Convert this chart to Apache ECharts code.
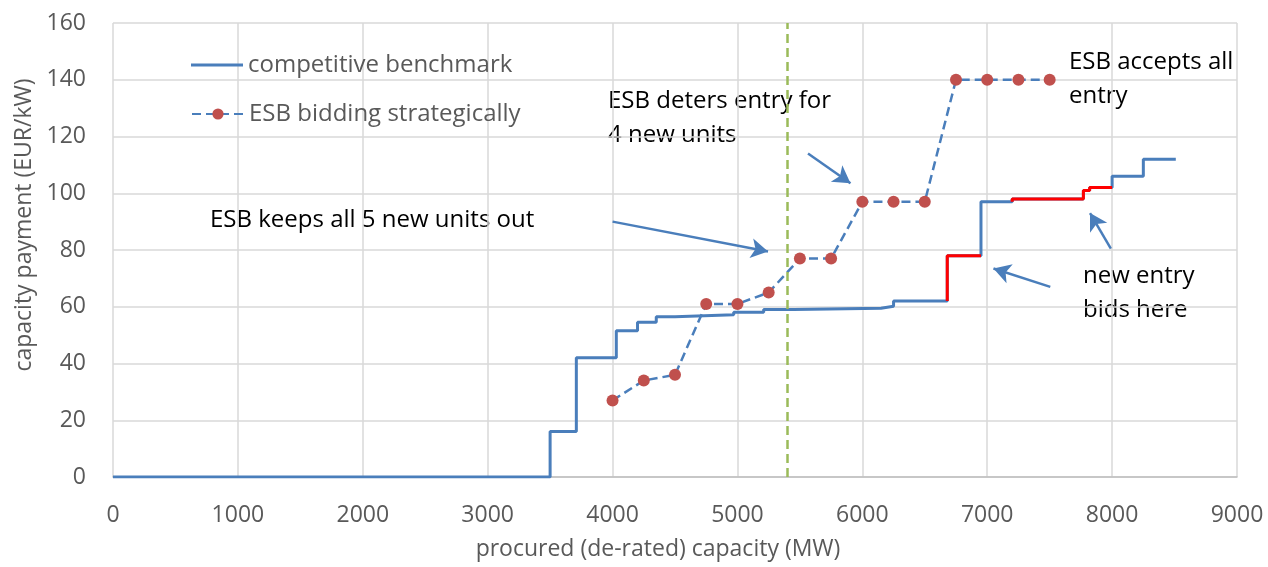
<!DOCTYPE html>
<html>
<head>
<meta charset="utf-8">
<script src="https://cdn.jsdelivr.net/npm/echarts@6/dist/echarts.min.js"></script>
<style>
	html, body { margin: 0; padding: 0; background: #fff; }
	#chart { width: 1268px; height: 567px; }
</style>
</head>
<body>
<div id="chart"></div>
<script>
// competitive benchmark supply curve: [capacity MW, price EUR/kW] step vertices
const benchmark = [
	[0, 0], [3500, 16], [3710, 42], [4030, 51.5], [4200, 54.5], [4350, 56.5],
	[4500, 57.2], [4970, 58.1], [5210, 59], [5450, 59.5], [6150, 60.2],
	[6250, 62], [6680, 78], [6950, 97], [7200, 98], [7770, 101], [7820, 102],
	[8000, 106], [8250, 112], [8510, 112]
];
// parts of the curve where new entry bids (drawn red)
const entryBids1 = [[6680, 62], [6950, 78]];
const entryBids2 = [[7200, 97], [7770, 98], [7820, 101], [8000, 102]];
// ESB bidding strategically
const strategicX = [4000, 4250, 4500, 4750, 5000, 5250, 5500, 5750, 6000, 6250, 6500, 6750, 7000, 7250, 7500];
const strategicY = [27, 34, 36, 61, 61, 65, 77, 77, 97, 97, 97, 140, 140, 140, 140];
const procuredLine = 5395;
// annotation arrows: [from, to] in data coordinates
const arrows = [
	[[4000, 90], [5245, 79.5]],
	[[5565, 114], [5905, 103.5]],
	[[7505, 67], [7050, 73.5]],
	[[7990, 80.5], [7823, 93]]
];
const notes = [
	{ text: 'ESB keeps all 5 new units out', left: 210, top: 203 },
	{ text: 'ESB deters entry for\n4 new units', left: 608, top: 84 },
	{ text: 'ESB accepts all\nentry', left: 1069, top: 45 },
	{ text: 'new entry\nbids here', left: 1083, top: 259 }
];

const BLUE = '#4a7ebb';
const GREY = '#595959';
const FONT = '"Open Sans", "Noto Sans", sans-serif';

function legendFor(name, top, extra) {
	return Object.assign({
		left: 186, top: top, itemWidth: 52, itemHeight: 14, itemGap: 0,
		textStyle: { fontSize: 24, color: GREY, fontFamily: FONT },
		data: [name]
	}, extra);
}

const chart = echarts.init(document.getElementById('chart'));
chart.setOption({
	animation: false,
	textStyle: { fontFamily: FONT },
	grid: { left: 113, right: 31, top: 23, bottom: 90 },
	legend: [
		legendFor('competitive benchmark', 48, { icon: 'rect', itemHeight: 3 }),
		legendFor('ESB bidding strategically', 97)
	],
	xAxis: {
		type: 'value', min: 0, max: 9000, interval: 1000,
		name: 'procured (de-rated) capacity (MW)', nameLocation: 'middle', nameGap: 61,
		nameTextStyle: { fontSize: 23, color: GREY, padding: [0, 34, 0, 0] },
		axisLine: { lineStyle: { color: '#bfbfbf', width: 1.5 } },
		axisTick: { show: false },
		axisLabel: { fontSize: 23, color: GREY, margin: 27, formatter: v => String(v) },
		splitLine: { show: true, lineStyle: { color: '#d9d9d9', width: 1.5 } }
	},
	yAxis: {
		type: 'value', min: 0, max: 160, interval: 20,
		name: 'capacity payment (EUR/kW)', nameLocation: 'middle', nameGap: 74,
		nameTextStyle: { fontSize: 23, color: GREY, padding: [0, 0, 0, 50] },
		axisLine: { show: false },
		axisTick: { show: false },
		axisLabel: { fontSize: 23, color: GREY, margin: 27 },
		splitLine: { lineStyle: { color: '#d9d9d9', width: 1.5 } }
	},
	series: [
		{
			name: 'competitive benchmark', type: 'line', step: 'end', data: benchmark,
			symbol: 'none', lineStyle: { color: BLUE, width: 3 }, itemStyle: { color: BLUE },
			z: 2,
			markLine: {
				silent: true, symbol: 'none', label: { show: false },
				lineStyle: { color: '#9bbb59', type: [9, 5], width: 2.5 },
				data: [{ xAxis: procuredLine }]
			}
		},
		{
			type: 'line', step: 'start', data: entryBids1, symbol: 'none',
			lineStyle: { color: '#ff0000', width: 3 }, z: 3
		},
		{
			type: 'line', step: 'start', data: entryBids2, symbol: 'none',
			lineStyle: { color: '#ff0000', width: 3 }, z: 3
		},
		{
			name: 'ESB bidding strategically', type: 'line',
			data: strategicX.map((x, i) => [x, strategicY[i]]),
			symbol: 'circle', symbolSize: 12,
			lineStyle: { color: BLUE, width: 2.5, type: [9, 5] },
			itemStyle: { color: '#c0504d' },
			z: 4,
			markLine: {
				silent: true, symbol: ['none', 'arrow'], symbolSize: [15, 17], label: { show: false },
				lineStyle: { color: BLUE, type: 'solid', width: 2.5 },
				data: arrows.map(a => [{ coord: a[0] }, { coord: a[1] }])
			}
		}
	],
	graphic: notes.map(n => ({
		type: 'text', left: n.left, top: n.top,
		style: { text: n.text, fontSize: 24, lineHeight: 34, fill: '#000', fontFamily: FONT }
	}))
});

window.addEventListener('resize', () => chart.resize());
</script>
</body>
</html>
